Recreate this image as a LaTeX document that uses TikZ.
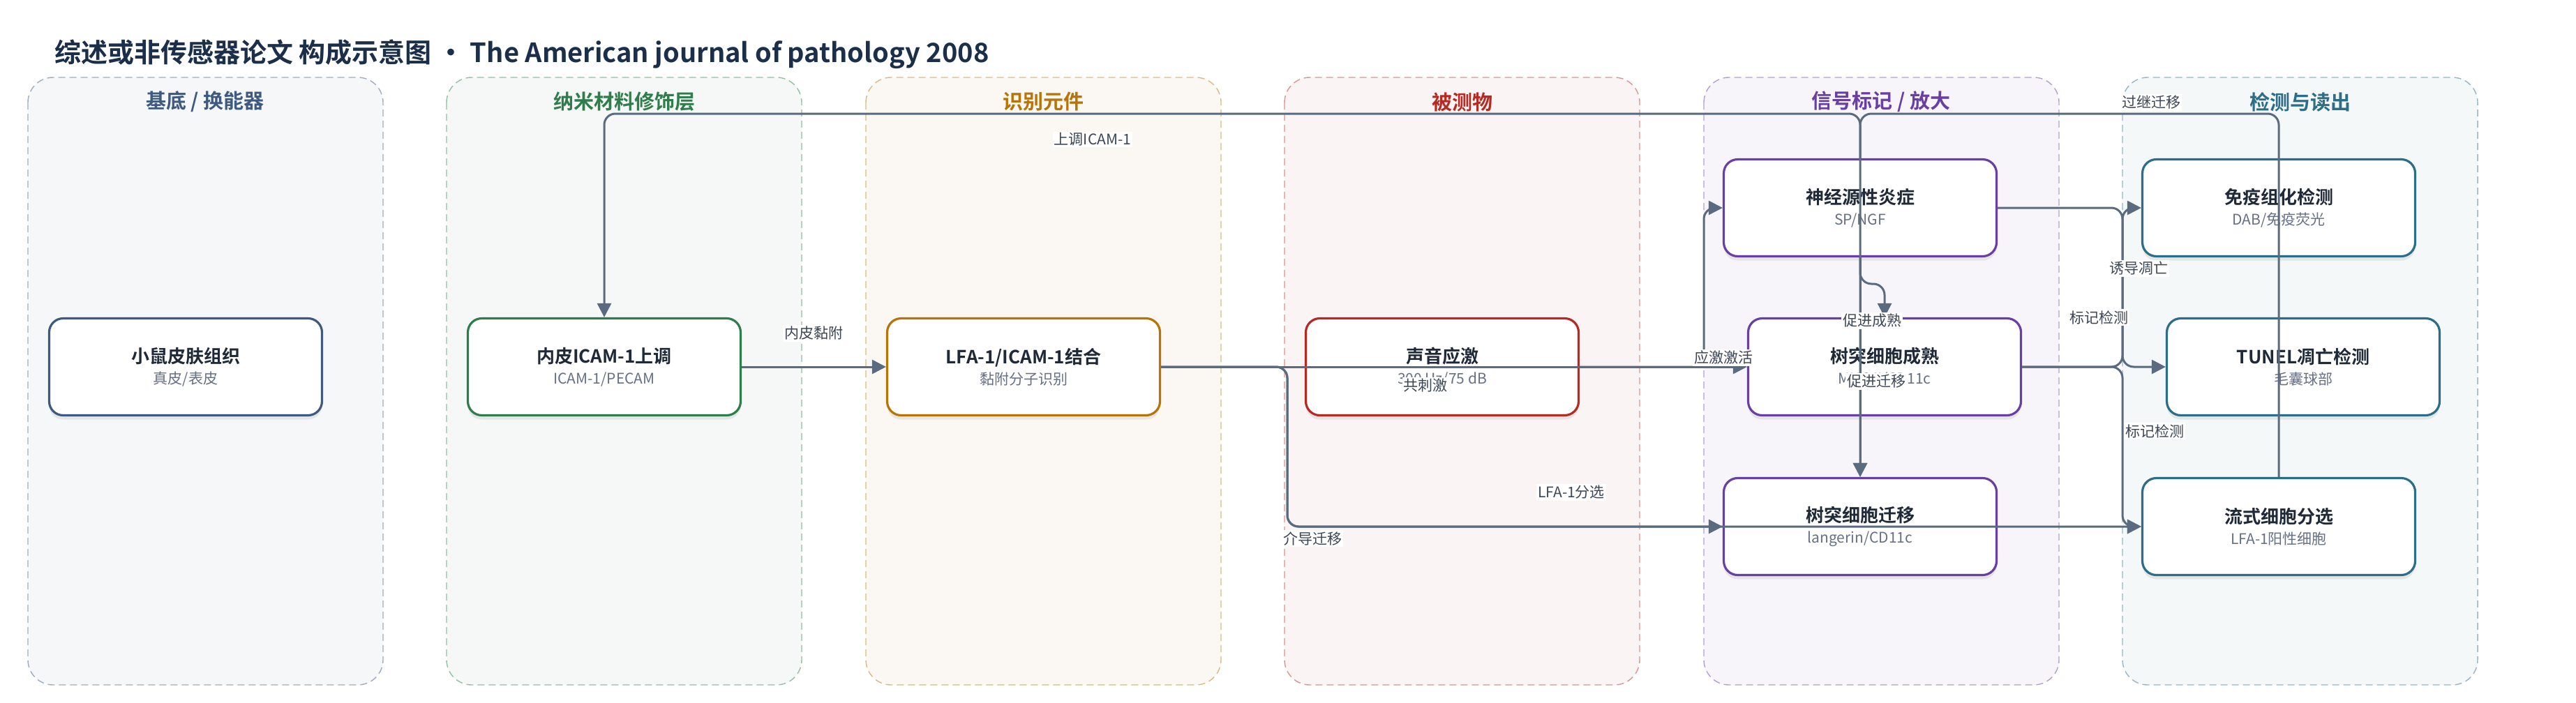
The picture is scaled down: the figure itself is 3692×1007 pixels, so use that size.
\documentclass[tikz,border=0pt]{standalone}
\usepackage{fontspec}
\setmainfont{Noto Sans CJK SC}[BoldFont={Noto Sans CJK SC Bold}]
\usepackage{xcolor}
\usepackage{tikz}
\usetikzlibrary{positioning,arrows.meta,shadows}

\definecolor{inkdark}{HTML}{1F2937}
\definecolor{inksub}{HTML}{667085}
\definecolor{inklbl}{HTML}{3C4655}
\definecolor{edgec}{HTML}{5B6B7F}
\definecolor{titlec}{HTML}{1B2F4B}
\definecolor{cbase}{HTML}{3F5A80}
\definecolor{cnano}{HTML}{2E7D4A}
\definecolor{crec}{HTML}{B87408}
\definecolor{cana}{HTML}{B52A22}
\definecolor{csig}{HTML}{6A3FA3}
\definecolor{cdet}{HTML}{2C6E88}

\newcommand{\boxtxt}[2]{{\fontsize{13}{15}\selectfont\bfseries #1}\\[3pt]{\fontsize{10.5}{12}\selectfont\color{inksub}#2}}

\begin{document}
\begin{tikzpicture}[x=0.5pt, y=-0.5pt,
	lane/.style={draw=#1!50, fill=#1!5, dash pattern=on 5pt off 3pt, line width=0.7pt, rounded corners=18pt},
	lanetitle/.style={font=\fontsize{14.5}{16}\selectfont\bfseries, text=#1},
	stage/.style={draw=#1, line width=1.6pt, fill=white, rounded corners=10pt, minimum width=195.5pt, minimum height=69.5pt, align=center, text=inkdark, drop shadow={opacity=0.15, shadow xshift=0pt, shadow yshift=-3pt}},
	flow/.style={draw=edgec, line width=1.5pt, rounded corners=8pt, -{Triangle[length=10pt,width=10pt]}},
	elabel/.style={fill=white, inner sep=1pt, text=inklbl, font=\fontsize{10.5}{12}\selectfont}]

	\fill [white] (0,0) rectangle (3692,1007);
	\useasboundingbox (0,0) rectangle (3692,1007);

	\node [anchor=west, font=\fontsize{19}{23}\selectfont\bfseries, text=titlec] (title) at (71,78) {综述或非传感器论文 构成示意图 • The American journal of pathology 2008};

	% lanes
	\draw [lane=cbase] (40,111) rectangle (549,982);
	\draw [lane=cnano] (640,111) rectangle (1149,982);
	\draw [lane=crec] (1241,111) rectangle (1750,982);
	\draw [lane=cana] (1841,111) rectangle (2350,982);
	\draw [lane=csig] (2442,111) rectangle (2951,982);
	\draw [lane=cdet] (3042,111) rectangle (3551,982);

	\node [lanetitle=cbase] (tbase) at (294,146) {基底 / 换能器};
	\node [lanetitle=cnano] (tnano) at (895,146) {纳米材料修饰层};
	\node [lanetitle=crec] (trec) at (1495,146) {识别元件};
	\node [lanetitle=cana] (tana) at (2096,146) {被测物};
	\node [lanetitle=csig] (tsig) at (2696,146) {信号标记 / 放大};
	\node [lanetitle=cdet] (tdet) at (3297,146) {检测与读出};

	% stages
	\node [stage=cbase] (skin) at (266,526) {\boxtxt{小鼠皮肤组织}{真皮/表皮}};
	\node [stage=cnano] (icam) at (866,526) {\boxtxt{内皮ICAM-1上调}{ICAM-1/PECAM}};
	\node [stage=crec] (lfa) at (1467,526) {\boxtxt{LFA-1/ICAM-1结合}{黏附分子识别}};
	\node [stage=cana] (stress) at (2067,526) {\boxtxt{声音应激}{300 Hz/75 dB}};
	\node [stage=csig] (neuro) at (2666,298) {\boxtxt{神经源性炎症}{SP/NGF}};
	\node [stage=csig] (dcmat) at (2701,526) {\boxtxt{树突细胞成熟}{MHC II/CD11c}};
	\node [stage=csig] (dcmig) at (2666,755) {\boxtxt{树突细胞迁移}{langerin/CD11c}};
	\node [stage=cdet] (ihc) at (3266,298) {\boxtxt{免疫组化检测}{DAB/免疫荧光}};
	\node [stage=cdet] (tunel) at (3301,526) {\boxtxt{TUNEL凋亡检测}{毛囊球部}};
	\node [stage=cdet] (facs) at (3266,755) {\boxtxt{流式细胞分选}{LFA-1阳性细胞}};

	% routing guides
	\coordinate (trunkA) at (1845,0);
	\coordinate (trunkB) at (2442,0);
	\coordinate (trunkC) at (3042,0);
	\coordinate (busY) at (0,163);
	\coordinate (jogY) at (0,407);

	% connectors
	\draw [flow] (icam.east) -- (lfa.west);
	\draw [flow] (lfa.east) -- (dcmat.west);
	\draw [flow] (stress.east) -- (stress.east -| trunkB) |- (neuro.west);
	\draw [flow] (lfa.east) -- (lfa.east -| trunkA) |- (dcmig.west);
	\draw [flow] (lfa.east) -- (lfa.east -| trunkA) |- (facs.west);
	\draw [flow] (neuro.north) -- (neuro.north |- busY) -| (icam.north);
	\draw [flow] (facs.north) -- (facs.north |- busY) -| (dcmig.north);
	\draw [flow] (neuro.south) -- (neuro.south |- jogY) -| (dcmat.north);
	\draw [flow] (neuro.south) -- (dcmig.north);
	\draw [flow] (neuro.east) -- (neuro.east -| trunkC) |- (tunel.west);
	\draw [flow] (dcmat.east) -- (dcmat.east -| trunkC) |- (ihc.west);
	\draw [flow] (dcmat.east) -- (dcmat.east -| trunkC) |- (facs.west);

	% connector labels
	\node [elabel] (l1) at (1166,478) {内皮黏附};
	\node [elabel] (l2) at (2043,553) {共刺激};
	\node [elabel] (l3) at (2470,513) {应激激活};
	\node [elabel] (l4) at (1881,772) {介导迁移};
	\node [elabel] (l5) at (2252,706) {LFA-1分选};
	\node [elabel] (l6) at (1566,200) {上调ICAM-1};
	\node [elabel] (l7) at (3083,147) {过继迁移};
	\node [elabel] (l8) at (2683,460) {促进成熟};
	\node [elabel] (l9) at (2689,547) {促进迁移};
	\node [elabel] (l10) at (3065,385) {诱导凋亡};
	\node [elabel] (l11) at (3008,455) {标记检测};
	\node [elabel] (l12) at (3088,618) {标记检测};

\end{tikzpicture}
\end{document}
